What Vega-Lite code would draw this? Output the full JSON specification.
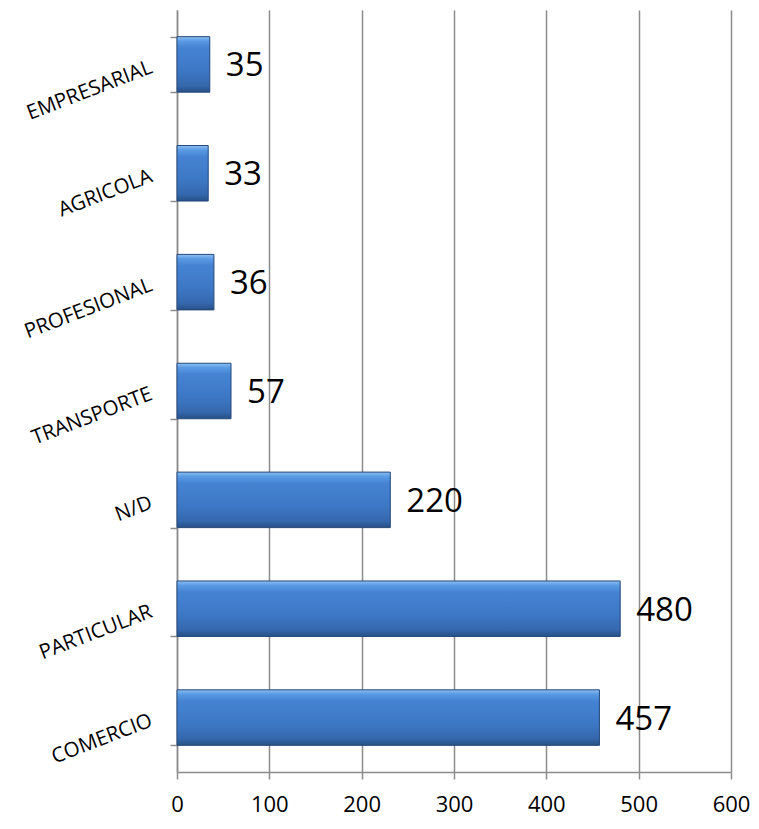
{
  "$schema": "https://vega.github.io/schema/vega-lite/v6.json",
  "width": 554,
  "height": 762,
  "autosize": {"type": "none"},
  "padding": {"left": 177, "top": 10, "right": 28, "bottom": 57},
  "background": "white",
  "data": {
    "values": [
      {"categoria": "EMPRESARIAL", "valor": 35.5, "etiqueta": "35"},
      {"categoria": "AGRICOLA", "valor": 33.8, "etiqueta": "33"},
      {"categoria": "PROFESIONAL", "valor": 40, "etiqueta": "36"},
      {"categoria": "TRANSPORTE", "valor": 58.5, "etiqueta": "57"},
      {"categoria": "N/D", "valor": 231, "etiqueta": "220"},
      {"categoria": "PARTICULAR", "valor": 480, "etiqueta": "480"},
      {"categoria": "COMERCIO", "valor": 457.5, "etiqueta": "457"}
    ]
  },
  "config": {
    "view": {"stroke": null},
    "font": "Open Sans"
  },
  "encoding": {
    "y": {
      "field": "categoria",
      "type": "nominal",
      "sort": null,
      "scale": {"paddingInner": 0.49, "paddingOuter": 0.245},
      "axis": {
        "title": null,
        "tickBand": "extent",
        "labelAngle": -21,
        "labelFont": "Open Sans",
        "labelFontSize": 20.5,
        "labelColor": "#000000",
        "labelPadding": 19,
        "labelOffset": 2,
        "tickSize": 7,
        "tickColor": "#8c8c8c",
        "tickWidth": 1.5,
        "domainColor": "#8c8c8c",
        "domainWidth": 1.5,
        "grid": false
      }
    },
    "x": {
      "field": "valor",
      "type": "quantitative",
      "scale": {"domain": [0, 600], "nice": false},
      "axis": {
        "title": null,
        "values": [0, 100, 200, 300, 400, 500, 600],
        "labelFont": "Open Sans",
        "labelFontSize": 22,
        "labelColor": "#000000",
        "labelPadding": 15,
        "labelFlush": false,
        "tickSize": 7,
        "tickColor": "#8c8c8c",
        "tickWidth": 1.5,
        "domainColor": "#8c8c8c",
        "domainWidth": 1.5,
        "grid": true,
        "gridColor": "#8c8c8c",
        "gridWidth": 1.5
      }
    }
  },
  "layer": [
    {
      "mark": {
        "type": "bar",
        "stroke": "#24487a",
        "strokeWidth": 1,
        "color": {
          "gradient": "linear",
          "x1": 0, "y1": 0, "x2": 0, "y2": 1,
          "stops": [
            {"offset": 0, "color": "#8cc0f2"},
            {"offset": 0.08, "color": "#5a9ae4"},
            {"offset": 0.2, "color": "#4583d2"},
            {"offset": 0.6, "color": "#3d78c6"},
            {"offset": 0.88, "color": "#3568ad"},
            {"offset": 1, "color": "#274f85"}
          ]
        }
      }
    },
    {
      "mark": {
        "type": "text",
        "align": "left",
        "baseline": "middle",
        "dx": 16,
        "dy": 2,
        "fontSize": 33,
        "font": "Open Sans",
        "color": "#000000"
      },
      "encoding": {
        "text": {"field": "etiqueta", "type": "nominal"}
      }
    }
  ]
}
